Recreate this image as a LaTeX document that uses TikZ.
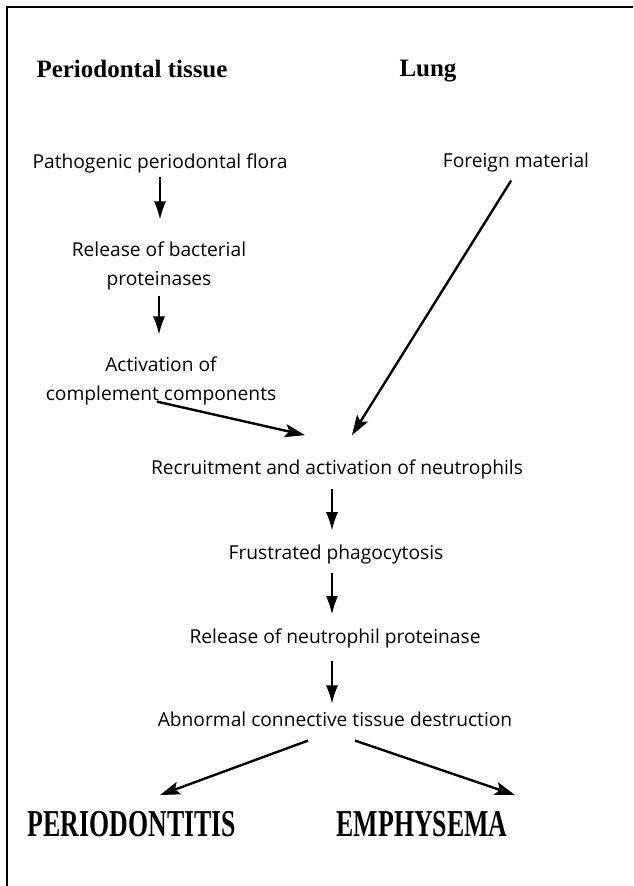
\documentclass[tikz,border=0pt]{standalone}
\usepackage{fontspec}
\setmainfont{Open Sans}
\newfontfamily\headfont{Liberation Serif}
\newfontfamily\capsfont[FakeStretch=0.68]{Liberation Serif}
\usetikzlibrary{arrows.meta,positioning}

\begin{document}
\begin{tikzpicture}[x=1pt,y=-1pt,
    flowtext/.style={font=\fontsize{19.2}{29.5}\selectfont, align=center, inner sep=0pt},
    colhead/.style={font=\headfont\bfseries\fontsize{25}{28}\selectfont, inner sep=0pt},
    outcome/.style={font=\capsfont\bfseries\fontsize{38}{40}\selectfont, inner sep=0pt},
    thinarrow/.style={-{Latex[length=18pt,width=12pt]}, line width=1.3pt},
    thickarrow/.style={-{Stealth[length=20pt,width=13pt,inset=4pt]}, line width=2.4pt}]
    \useasboundingbox (0,0) rectangle (633,886);

    % frame (top and left only)
    \draw[line width=1.3pt] (7,886) -- (7,7) -- (633,7);

    % column heads
    \node[colhead] (perhead) at (132,69) {Periodontal tissue};
    \node[colhead] (lunghead) at (428,71) {Lung};

    % periodontal branch
    \node[flowtext] (flora) at (160,163) {Pathogenic periodontal flora};
    \node[flowtext] (bact) at (159,266) {Release of bacterial\\proteinases};
    \node[flowtext] (compl) at (161,381) {Activation of\\complement components};

    % lung branch
    \node[flowtext] (foreign) at (516,163) {Foreign material};

    % common pathway
    \node[flowtext] (recr) at (337,469) {Recruitment and activation of neutrophils};
    \node[flowtext] (frust) at (336,555) {Frustrated phagocytosis};
    \node[flowtext] (relneu) at (335,638) {Release of neutrophil proteinase};
    \node[flowtext] (abn) at (335,719) {Abnormal connective tissue destruction};

    % outcomes
    \node[outcome] (perio) at (132,824) {PERIODONTITIS};
    \node[outcome] (emph) at (422,824) {EMPHYSEMA};

    % arrows
    \draw[thinarrow, shorten <=4pt, shorten >=22pt] (flora.south) -- (flora.south |- bact.north);
    \draw[thinarrow, shorten <=5pt, shorten >=22pt] (bact.south) -- (bact.south |- compl.north);
    \draw[thickarrow] ([xshift=-4pt,yshift=4pt]compl.south) -- ([xshift=-32pt,yshift=24pt]recr.north);
    \draw[thickarrow, shorten <=9pt] (foreign.south) -- ([xshift=15pt,yshift=24pt]recr.north);
    \draw[thinarrow, shorten <=10pt, shorten >=15pt] ([xshift=-5pt]recr.south) -- ([xshift=-5pt]recr.south |- frust.north);
    \draw[thinarrow, shorten <=8pt, shorten >=14pt] ([xshift=-4pt]frust.south) -- ([xshift=-4pt]frust.south |- relneu.north);
    \draw[thinarrow, shorten <=13pt, shorten >=8pt] ([xshift=-3pt]relneu.south) -- ([xshift=-3pt]relneu.south |- abn.north);
    \draw[thickarrow] ([xshift=-27pt,yshift=-14pt]abn.south) -- ([xshift=28pt,yshift=16pt]perio.north);
    \draw[thickarrow] ([xshift=20pt,yshift=-14pt]abn.south) -- ([xshift=93pt,yshift=16pt]emph.north);
\end{tikzpicture}
\end{document}
